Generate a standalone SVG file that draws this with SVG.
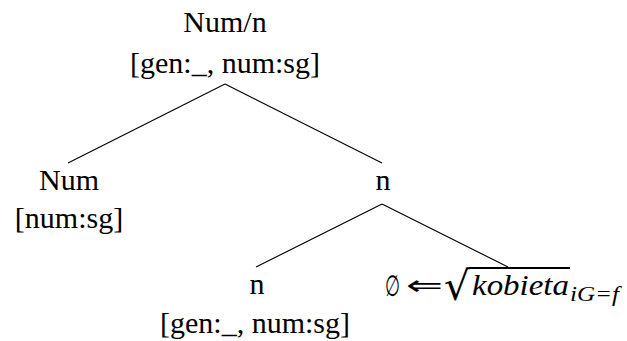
<svg xmlns="http://www.w3.org/2000/svg" width="627" height="341" viewBox="0 0 627 341">
<style>
.e{stroke:#000;stroke-width:1.1;fill:none}
</style>
<rect width="627" height="341" fill="#fff"/>
<g id="edges">
<line class="e" x1="225" y1="84" x2="68" y2="163"/>
<line class="e" x1="225" y1="84" x2="382" y2="163"/>
<line class="e" x1="382" y1="204" x2="256" y2="267"/>
<line class="e" x1="382" y1="204" x2="508" y2="267"/>
</g>
<g font-family="Liberation Serif" font-size="30" text-anchor="middle" fill="#000">
<g id="root">
<text x="225" y="32">Num/n</text>
<text x="225" y="73">[gen:_, num:sg]</text>
</g>
<g id="num">
<text x="69" y="190">Num</text>
<text x="69" y="228">[num:sg]</text>
</g>
<g id="n1">
<text x="383" y="190">n</text>
</g>
<g id="n2">
<text x="257" y="294">n</text>
<text x="255" y="333">[gen:_, num:sg]</text>
</g>
</g>
<g id="root-leaf" fill="#000">
<text font-family="DejaVu Sans" font-size="28" lengthAdjust="spacingAndGlyphs"><tspan x="385" y="296" font-size="29" textLength="15" lengthAdjust="spacingAndGlyphs">∅</tspan><tspan x="406" y="295" textLength="37" lengthAdjust="spacingAndGlyphs">⇐</tspan></text>
<text x="444" y="300" font-family="DejaVu Sans" font-size="40" textLength="26" lengthAdjust="spacingAndGlyphs">√</text>
<line x1="469" y1="268" x2="570" y2="268" stroke="#000" stroke-width="2"/>
<text x="472" y="295" font-family="Liberation Serif" font-style="italic" font-size="30" textLength="97" lengthAdjust="spacingAndGlyphs">kobieta</text>
<text x="570" y="301" font-family="Liberation Serif" font-style="italic" font-size="20" textLength="49" lengthAdjust="spacingAndGlyphs">iG=f</text>
</g>
</svg>
